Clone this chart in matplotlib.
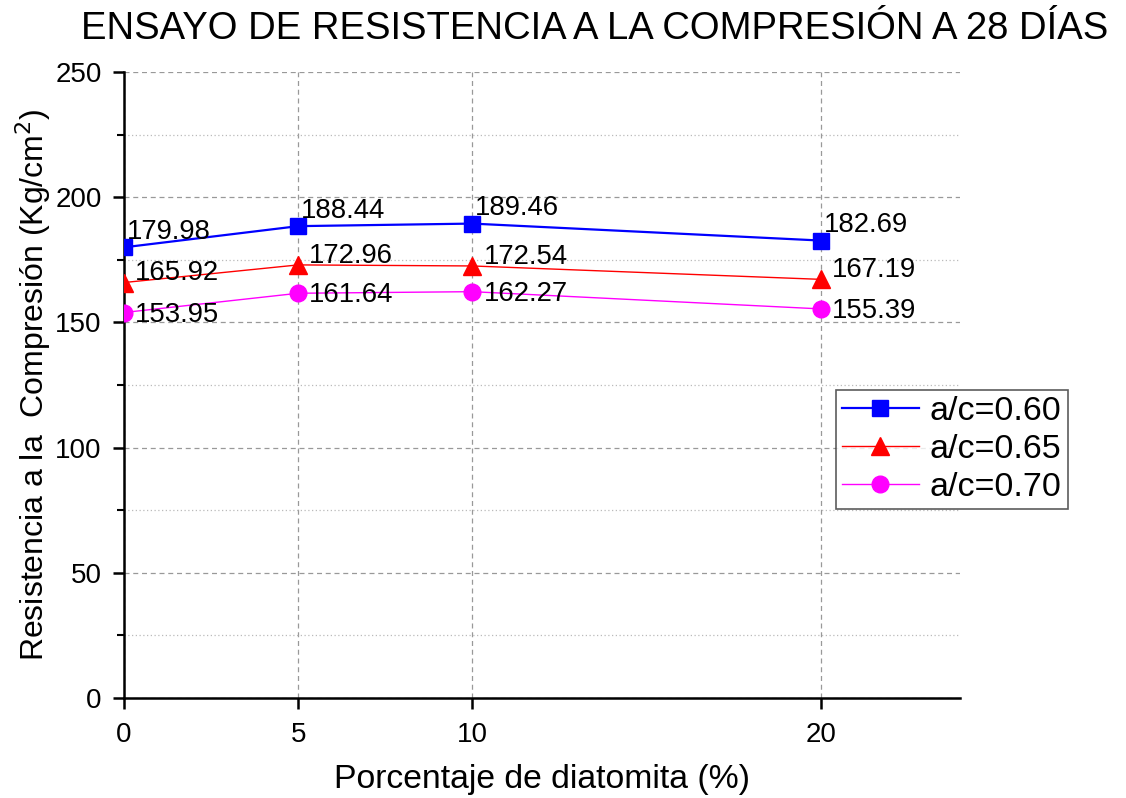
import matplotlib
matplotlib.use("Agg")
import matplotlib.pyplot as plt
from matplotlib.ticker import MultipleLocator

plt.rcParams['font.family'] = ['Liberation Sans', 'DejaVu Sans']

x = [0, 5, 10, 20]
s060 = [179.98, 188.44, 189.46, 182.69]
s065 = [165.92, 172.96, 172.54, 167.19]
s070 = [153.95, 161.64, 162.27, 155.39]
labels = ['a/c=0.60', 'a/c=0.65', 'a/c=0.70']
xticks = [0, 5, 10, 20]

W, H = 1126, 798
fig = plt.figure(figsize=(W / 100, H / 100), dpi=100)
ax = fig.add_axes([124 / W, 1 - 698 / H, (960 - 124) / W, (698 - 72) / H])

ax.plot(x, s060, color='#0000ff', lw=1.6, marker='s', ms=11, label=labels[0], zorder=5)
ax.plot(x, s065, color='#ff0000', lw=1.0, marker='^', ms=13, label=labels[1], zorder=5)
ax.plot(x, s070, color='#ff00ff', lw=1.0, marker='o', ms=12, label=labels[2], zorder=5)

fs_ann = 19.8
for xi, yi in zip(x, s060):
    ax.annotate(f"{yi:.2f}", (xi, yi), xytext=(2, 6), textcoords='offset points',
                fontsize=fs_ann, va='baseline', ha='left', zorder=6)
for xi, yi in zip(x, s065):
    ax.annotate(f"{yi:.2f}", (xi, yi), xytext=(8, 1.5), textcoords='offset points',
                fontsize=fs_ann, va='baseline', ha='left', zorder=6)
for xi, yi in zip(x, s070):
    ax.annotate(f"{yi:.2f}", (xi, yi), xytext=(8, -6.5), textcoords='offset points',
                fontsize=fs_ann, va='baseline', ha='left', zorder=6)

ax.set_xlim(0, 24)
ax.set_ylim(0, 250)
ax.set_xticks(xticks)
ax.yaxis.set_major_locator(MultipleLocator(50))
ax.yaxis.set_minor_locator(MultipleLocator(25))

ax.grid(which='major', axis='both', color='#999999', linestyle=(0, (4, 3)), lw=0.9)
ax.grid(which='minor', axis='y', color='#bbbbbb', linestyle=(0, (1, 2)), lw=0.9)
ax.set_axisbelow(True)

for sp in ['top', 'right']:
    ax.spines[sp].set_visible(False)
for sp in ['left', 'bottom']:
    ax.spines[sp].set_linewidth(1.8)
ax.tick_params(which='major', direction='out', length=8, width=1.8, labelsize=20)
ax.tick_params(axis='x', which='major', pad=9)
ax.tick_params(axis='y', which='major', pad=8)
ax.tick_params(which='minor', direction='out', length=5, width=1.5)

fig.text(542 / W, 1 - 788 / H, 'Porcentaje de diatomita (%)', fontsize=24.3,
         ha='center', va='baseline')
fig.text(44 / W, 1 - 385 / H, 'Resistencia a la  Compresión (Kg/cm$^2$)', fontsize=23,
         rotation=90, rotation_mode='anchor', ha='center', va='baseline')
fig.text(595 / W, 1 - 39 / H, 'ENSAYO DE RESISTENCIA A LA COMPRESIÓN A 28 DÍAS',
         fontsize=27.5, ha='center', va='baseline')

leg = ax.legend(loc='upper left', bbox_to_anchor=(836 / W, 1 - 390 / H),
                bbox_transform=fig.transFigure, fontsize=24.5, frameon=True,
                fancybox=False, edgecolor='#333333', handlelength=2.25,
                borderpad=0.18, labelspacing=0.2, handletextpad=0.33, borderaxespad=0)
leg.get_frame().set_linewidth(1.2)

fig.savefig('out.png', dpi=100)
